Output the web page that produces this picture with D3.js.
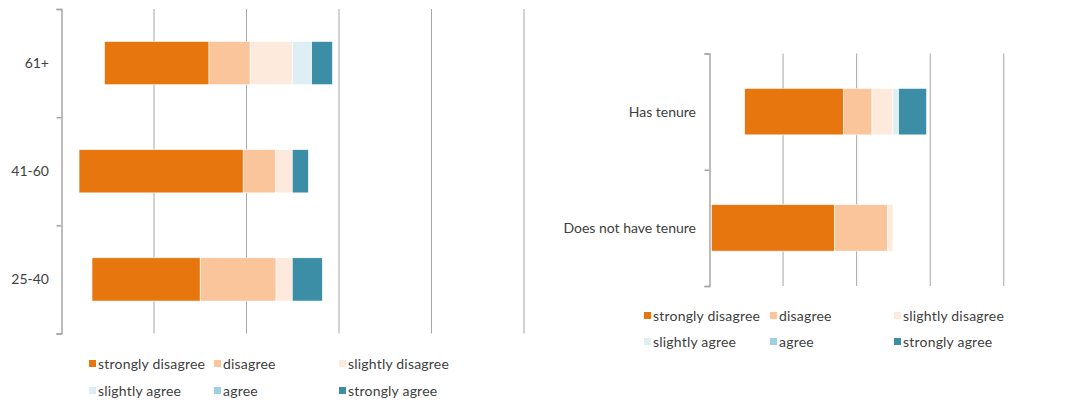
<!DOCTYPE html>
<html>
<head>
<meta charset="utf-8">
<script src="https://cdn.jsdelivr.net/npm/d3@7"></script>
<style>
  body { margin: 0; background: #fff; }
  svg { display: block; font-family: Lato, "Open Sans", sans-serif; }
  .cat { fill: #404040; font-size: 14px; }
  .leg { fill: #404040; font-size: 14px; letter-spacing: 0.2px; }
  .grid line { stroke: #a6a6a6; stroke-width: 1; }
  .axis path, .axis line { stroke: #a6a6a6; stroke-width: 1.5; }
</style>
</head>
<body>
<svg id="chart" width="1065" height="400"></svg>
<script>
// response categories, left to right
const responses = ["strongly disagree", "disagree", "slightly disagree", "slightly agree", "agree", "strongly agree"]
const colors = ["#e8760f", "#fac59b", "#fdeadd", "#ddeff4", "#9dd0e2", "#3b8ea5"]

// age panel (% of respondents)
const ageGroups = ["61+", "41-60", "25-40"]
const ageStronglyDisagree = [22.6, 35.5, 23.4]
const ageDisagree = [8.9, 7.0, 16.4]
const ageSlightlyDisagree = [9.1, 3.6, 3.5]
const ageSlightlyAgree = [4.2, 0, 0]
const ageAgree = [0, 0, 0]
const ageStronglyAgree = [4.5, 3.5, 6.5]

// tenure panel (% of respondents)
const tenureGroups = ["Has tenure", "Does not have tenure"]
const tenStronglyDisagree = [26.9, 33.5]
const tenDisagree = [7.7, 14.4]
const tenSlightlyDisagree = [5.7, 1.45]
const tenSlightlyAgree = [1.55, 0]
const tenAgree = [0, 0]
const tenStronglyAgree = [7.6, 0]

const xTicksAge = [0, 20, 40, 60, 80, 100]
const xTicksTen = [0, 20, 40, 60, 80]

function make_rows(groups, series) {
  return groups.map((g, i) => {
    let row = {group: g}
    responses.forEach((r, j) => row[r] = series[j][i])
    return row
  })
}

function draw_panel(svg, rows, groups, ticks, box) {
  let x = d3.scaleLinear().domain([0, ticks[ticks.length - 1]]).range([box.left, box.right])
  let y = d3.scaleBand().domain(groups).range([box.top, box.bottom])
    .paddingInner(0.6).paddingOuter(0.3)
  let g = svg.append("g")

  // vertical gridlines (the first one is the category axis)
  g.append("g").attr("class", "grid")
    .selectAll("line")
    .data(ticks.slice(1)).enter()
    .append("line")
    .attr("x1", d => x(d) + 0.5).attr("x2", d => x(d) + 0.5)
    .attr("y1", box.top).attr("y2", box.bottom)

  // stacked bars, disagree side ends at the 50% line
  let stacked = d3.stack().keys(responses)(rows)
  let offsets = rows.map(r => 50 - r[responses[0]] - r[responses[1]] - r[responses[2]])
  g.append("g")
    .selectAll("g")
    .data(stacked).enter()
    .append("g")
    .attr("fill", (d, i) => colors[i])
    .selectAll("rect")
    .data(d => d.map((s, i) => ({s: s, i: i})).filter(d => d.s[1] - d.s[0] > 0))
    .enter()
    .append("rect")
    .attr("x", d => x(offsets[d.i] + d.s[0]))
    .attr("width", d => x(offsets[d.i] + d.s[1]) - x(offsets[d.i] + d.s[0]))
    .attr("y", d => y(d.s.data.group))
    .attr("height", y.bandwidth())
    .attr("stroke", "#fff")
    .attr("stroke-width", 0.6)

  // category axis: line with ticks at band edges
  let edges = d3.scaleLinear().domain([0, groups.length]).range([box.top, box.bottom])
  g.append("g").attr("class", "axis")
    .attr("transform", `translate(${box.left + 0.5},0)`)
    .call(d3.axisLeft(edges).ticks(groups.length).tickSize(5).tickSizeOuter(5).tickFormat(""))

  g.append("g")
    .selectAll("text")
    .data(groups).enter()
    .append("text")
    .attr("class", "cat")
    .attr("x", box.labelX)
    .attr("y", d => y(d) + y.bandwidth() / 2)
    .attr("dy", "0.35em")
    .attr("text-anchor", "end")
    .text(d => d)
}

function draw_legend(svg, cols, rowsY) {
  let items = svg.append("g")
    .selectAll("g")
    .data(responses).enter()
    .append("g")
    .attr("transform", (d, i) => `translate(${cols[i % 3]},${rowsY[Math.floor(i / 3)]})`)
  items.append("rect")
    .attr("x", 0).attr("y", -4).attr("width", 7).attr("height", 7)
    .attr("fill", (d, i) => colors[i])
  items.append("text")
    .attr("class", "leg")
    .attr("x", 9).attr("dy", "0.35em")
    .text(d => d)
}

let svg = d3.select("#chart")

draw_panel(svg,
  make_rows(ageGroups, [ageStronglyDisagree, ageDisagree, ageSlightlyDisagree, ageSlightlyAgree, ageAgree, ageStronglyAgree]),
  ageGroups, xTicksAge,
  {left: 61, right: 523.5, top: 9, bottom: 333.5, labelX: 49})

draw_panel(svg,
  make_rows(tenureGroups, [tenStronglyDisagree, tenDisagree, tenSlightlyDisagree, tenSlightlyAgree, tenAgree, tenStronglyAgree]),
  tenureGroups, xTicksTen,
  {left: 709, right: 1003.3, top: 53.5, bottom: 286, labelX: 696})

draw_legend(svg, [89, 214, 339], [364, 391])
draw_legend(svg, [644, 770, 894], [316, 342])
</script>
</body>
</html>
